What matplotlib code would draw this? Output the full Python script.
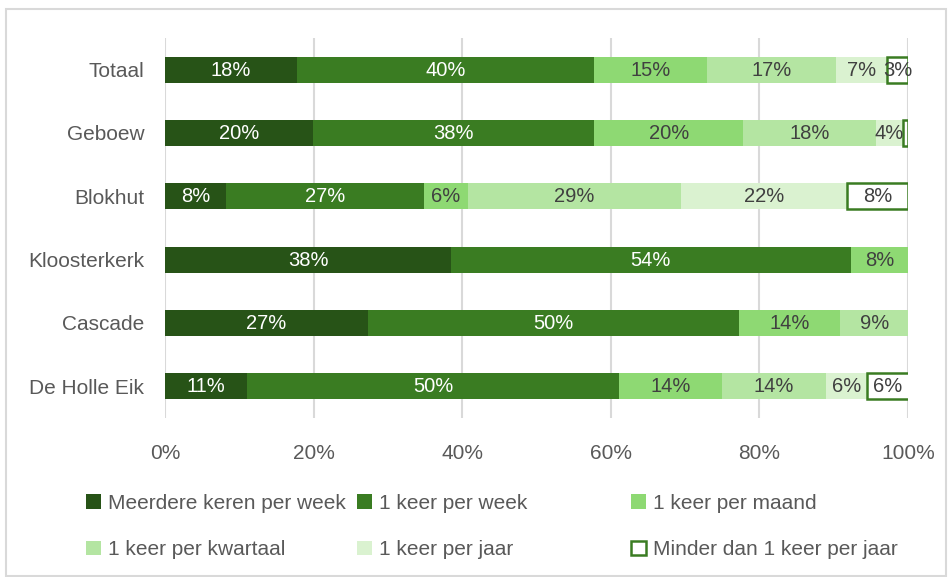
import matplotlib.pyplot as plt
import numpy as np
from matplotlib.patches import Rectangle

plt.rcParams['font.family'] = ['Liberation Sans', 'DejaVu Sans']

# data (percentages per location)
categories = ['Totaal', 'Geboew', 'Blokhut', 'Kloosterkerk', 'Cascade', 'De Holle Eik']
series = ['Meerdere keren per week', '1 keer per week', '1 keer per maand',
          '1 keer per kwartaal', '1 keer per jaar', 'Minder dan 1 keer per jaar']
meerdere = [17.8, 19.9, 8.2, 38.5, 27.3, 11.1]
per_week = [39.9, 37.9, 26.6, 53.8, 50.0, 50.0]
per_maand = [15.2, 20.0, 6.0, 7.7, 13.6, 13.9]
per_kwartaal = [17.4, 17.9, 28.6, 0, 9.1, 13.9]
per_jaar = [6.9, 3.6, 22.4, 0, 0, 5.6]
minder = [2.8, 0.7, 8.2, 0, 0, 5.6]

colors = ['#275317', '#3A7C22', '#8ED973', '#B4E5A2', '#DAF2D0', '#FFFFFF']
text_colors = ['white', 'white', '#404040', '#404040', '#404040', '#404040']
grey = '#595959'

fig = plt.figure(figsize=(9.53, 5.77), dpi=100)
ax = fig.add_axes([165 / 953, 1 - 418 / 577, 743 / 953, 380 / 577])

values = [meerdere, per_week, per_maand, per_kwartaal, per_jaar, minder]
y = np.arange(len(categories))
left = np.zeros(len(categories))
for i, vals in enumerate(values):
    vals = np.array(vals, dtype=float)
    keep = vals > 0
    if i == 5:
        ax.barh(y[keep], vals[keep], left=left[keep], height=0.41, color='white',
                edgecolor='#3A7C22', linewidth=1.8, label=series[i], zorder=3)
    else:
        ax.barh(y[keep], vals[keep], left=left[keep], height=0.41, color=colors[i],
                linewidth=0, label=series[i], zorder=2)
    for j, v in enumerate(vals):
        if v >= 1:
            ax.text(left[j] + v / 2, y[j] + 0.01, f'{v:.0f}%', ha='center', va='center',
                    color=text_colors[i], fontsize=14.5, zorder=4)
    left += vals

ax.set_xlim(0, 100)
ax.set_ylim(5.5, -0.5)
ax.set_xticks(np.arange(0, 101, 20))
ax.set_xticklabels([f'{t}%' for t in range(0, 101, 20)])
ax.set_yticks(y)
ax.set_yticklabels(categories)
ax.tick_params(length=0, labelsize=15, colors=grey)
ax.tick_params(axis='x', pad=19)
ax.tick_params(axis='y', pad=15)
ax.grid(axis='x', color='#D9D9D9', linewidth=1.5, zorder=0)
for s in ax.spines.values():
    s.set_visible(False)

# legend in three equal columns
handles, labels = ax.get_legend_handles_labels()
col_x = [86 / 953, 357 / 953, 631 / 953]
for c in range(3):
    idx = [c, c + 3]
    fig.legend([handles[k] for k in idx], [labels[k] for k in idx],
               loc='upper left', bbox_to_anchor=(col_x[c], 1 - 494 / 577),
               frameon=False, fontsize=15, labelcolor=grey,
               handlelength=0.7, handleheight=0.7, handletextpad=0.35,
               labelspacing=1.3, borderpad=0, borderaxespad=0)

fig.patches.append(Rectangle((6 / 953, 0.002), 940 / 953, 1 - 9 / 577 - 0.002,
                             transform=fig.transFigure, fill=False,
                             edgecolor='#D9D9D9', linewidth=1.5))

fig.savefig('out.png', dpi=100, facecolor='white')
